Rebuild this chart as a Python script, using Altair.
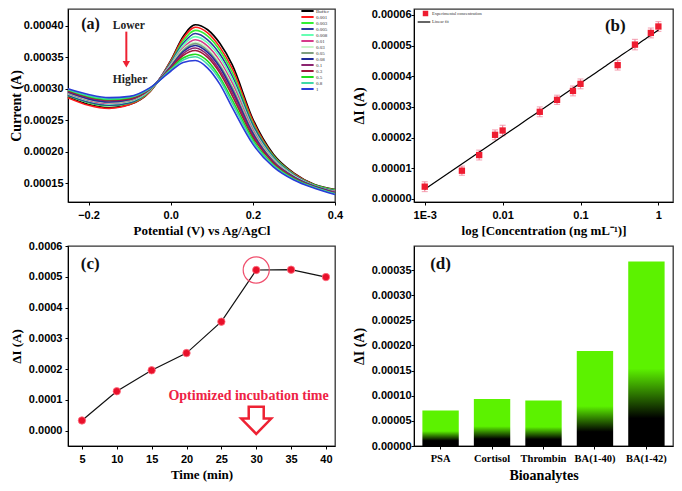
import altair as alt
import pandas as pd

# ---------------- Panel (a): DPV curves ----------------
POT = [-0.25, -0.2, -0.15, -0.1, -0.05, 0.0, 0.03, 0.06, 0.09, 0.12, 0.15, 0.2, 0.25, 0.3, 0.35, 0.4]
SERIES_A = ["Buffer", "0.001", "0.003", "0.005", "0.008", "0.01", "0.03", "0.05",
            "0.08", "0.1", "0.3", "0.5", "0.8", "1"]
COLORS_A = ["#000000", "#ff1a1a", "#33f033", "#2b3a9e", "#66ffb3", "#d63c8a", "#c8f5c8",
            "#7f9f7f", "#1f2a99", "#8c2470", "#a0183c", "#1fdc1f", "#40d9a6", "#2a3cd8"]
# currents in units of 1e-6 A
CUR_BUFFER = [287, 275, 270, 275, 296, 345, 383, 402, 394, 372, 338, 252, 196, 166, 148, 140]
CUR_0001 = [286, 274, 269, 275, 296, 344, 380, 398, 389, 366, 332, 249, 194, 165, 147, 139]
CUR_0003 = [289, 278, 273, 277, 297, 342, 376, 393, 384, 361, 326, 245, 193, 164, 147, 139]
CUR_0005 = [290, 279, 274, 278, 298, 341, 372, 388, 378, 355, 320, 242, 191, 163, 146, 138]
CUR_0008 = [292, 281, 276, 280, 298, 339, 369, 383, 373, 350, 315, 238, 189, 162, 146, 137]
CUR_001 = [293, 282, 277, 281, 299, 338, 365, 378, 368, 344, 309, 235, 187, 161, 145, 137]
CUR_003 = [294, 283, 278, 282, 299, 337, 363, 374, 364, 340, 304, 232, 186, 161, 145, 136]
CUR_005 = [294, 284, 279, 282, 299, 336, 361, 372, 361, 337, 302, 231, 185, 160, 145, 136]
CUR_008 = [295, 284, 279, 283, 300, 335, 359, 369, 358, 334, 298, 229, 184, 160, 145, 135]
CUR_01 = [296, 286, 281, 284, 300, 334, 356, 365, 354, 329, 294, 226, 183, 159, 144, 135]
CUR_03 = [296, 287, 282, 284, 300, 333, 353, 361, 350, 325, 289, 223, 182, 158, 144, 134]
CUR_05 = [298, 288, 283, 286, 301, 331, 349, 355, 344, 318, 282, 219, 179, 157, 143, 133]
CUR_08 = [299, 289, 284, 287, 301, 330, 346, 351, 339, 314, 277, 216, 178, 156, 143, 133]
CUR_1 = [300, 291, 286, 288, 302, 328, 342, 345, 333, 307, 270, 212, 176, 155, 142, 132]
CURVES_A = [CUR_BUFFER, CUR_0001, CUR_0003, CUR_0005, CUR_0008, CUR_001, CUR_003,
            CUR_005, CUR_008, CUR_01, CUR_03, CUR_05, CUR_08, CUR_1]

# ---------------- Panel (b): calibration ----------------
CONC_B = [0.001, 0.003, 0.005, 0.008, 0.01, 0.03, 0.05, 0.08, 0.1, 0.3, 0.5, 0.8, 1.0]
DI_B = [4.0, 9.2, 14.3, 20.9, 22.3, 28.4, 32.3, 35.2, 37.5, 43.6, 50.3, 54.1, 56.2]  # x 1e-6 A
ERR_B = [1.6, 1.5, 1.6, 1.6, 1.7, 1.6, 1.5, 1.6, 1.6, 1.6, 1.7, 1.6, 1.6]            # x 1e-6 A

# ---------------- Panel (c): incubation time ----------------
TIME_C = [5, 10, 15, 20, 25, 30, 35, 40]
DI_C = [0.000033, 0.000128, 0.000196, 0.000252, 0.000354, 0.000522, 0.000523, 0.000499]

# ---------------- Panel (d): selectivity ----------------
ANALYTES = ["PSA", "Cortisol", "Thrombin", "BA(1-40)", "BA(1-42)"]
DI_D = [0.0000705, 0.0000936, 0.0000904, 0.000189, 0.000367]

# ---------------- shared styles ----------------
SANS = "Liberation Sans"
SERIF = "Liberation Serif"
AX = dict(labelFont=SANS, labelFontWeight="bold", labelFontSize=11, labelColor="black",
          titleFont=SERIF, titleFontWeight="bold", titleColor="black",
          domainColor="black", tickColor="black", tickSize=3, grid=False,
          labelOverlap=False, labelBound=False, labelFlush=False)


def yaxis(values, fmt, title, label_pad, title_pad, title_size=14):
    return alt.Axis(values=values, format=fmt, title=title, labelPadding=label_pad,
                    titlePadding=title_pad, minExtent=44, maxExtent=44,
                    titleFontSize=title_size, **AX)


def xaxis(values, fmt, title, title_size=13, **kw):
    return alt.Axis(values=values, format=fmt, title=title, labelPadding=4, titlePadding=4,
                    minExtent=18, maxExtent=18, titleFontSize=title_size, labelAngle=0,
                    **{**AX, **kw})


def enc(xf, yf, sx, sy, ax, ay, xtype="Q"):
    return dict(x=alt.X(f"{xf}:{xtype}", scale=sx, axis=ax),
                y=alt.Y(f"{yf}:Q", scale=sy, axis=ay))


# ===== Panel (a) =====
rows = []
for name, vals in zip(SERIES_A, CURVES_A):
    for p, v in zip(POT, vals):
        rows.append({"pot": p, "cur": v * 1e-6, "conc": name})
df_a = pd.DataFrame(rows)

sx_a = alt.Scale(domain=[-0.25, 0.4], nice=False, zero=False)
sy_a = alt.Scale(domain=[0.00012, 0.000427], nice=False, zero=False)
ax_a = xaxis([-0.2, 0.0, 0.2, 0.4], ".1f", "Potential (V) vs Ag/AgCl")
ay_a = yaxis([0.00015, 0.0002, 0.00025, 0.0003, 0.00035, 0.0004], ".5f", "Current (A)", 2, 1)


def enc_a(xf, yf):
    return enc(xf, yf, sx_a, sy_a, ax_a, ay_a)


lines_a = alt.Chart(df_a).mark_line(interpolate="monotone", strokeWidth=1.6).encode(
    color=alt.Color("conc:N", scale=alt.Scale(domain=SERIES_A, range=COLORS_A),
                    legend=alt.Legend(orient="none", legendX=232, legendY=-1, title=None,
                                      symbolType="stroke", symbolSize=150, symbolStrokeWidth=2,
                                      labelFontSize=5, labelFont=SERIF, labelColor="#333",
                                      clipHeight=6.0, rowPadding=0, labelOffset=1)),
    **enc_a("pot", "cur"))

ANN_A_X = [-0.218]
ANN_A_Y = [0.000403]
lab_a = alt.Chart(pd.DataFrame({"pot": ANN_A_X, "cur": ANN_A_Y, "t": ["(a)"]})).mark_text(
    font=SERIF, fontWeight="bold", fontSize=16, align="left", baseline="middle", color="#111"
).encode(text="t:N", **enc_a("pot", "cur"))

WORDS_A = ["Lower", "Higher"]
WORDS_A_X = [-0.102, -0.099]
WORDS_A_Y = [0.0004, 0.000314]
words_a = alt.Chart(pd.DataFrame({"pot": WORDS_A_X, "cur": WORDS_A_Y, "t": WORDS_A})).mark_text(
    font=SERIF, fontWeight="bold", fontSize=11.5, align="center", baseline="middle", color="#222"
).encode(text="t:N", **enc_a("pot", "cur"))

ARROW_A = {"pot": [-0.108], "cur": [0.000391], "cur_end": [0.000338], "tip": [0.000339]}
arrow_df = pd.DataFrame(ARROW_A)
arrow_shaft = alt.Chart(arrow_df).mark_rule(color="#ee2233", strokeWidth=2).encode(
    y2="cur_end:Q", **enc_a("pot", "cur"))
arrow_head = alt.Chart(arrow_df).mark_point(shape="triangle-down", filled=True, size=55,
                                             color="#ee2233", opacity=1).encode(
    x=alt.X("pot:Q", scale=sx_a, axis=ax_a), y=alt.Y("tip:Q", scale=sy_a, axis=ay_a))

panel_a = alt.layer(lines_a, lab_a, words_a, arrow_shaft, arrow_head).properties(width=267, height=193)

# ===== Panel (b) =====
df_b = pd.DataFrame({"conc": CONC_B, "dI": [v * 1e-6 for v in DI_B],
                     "lo": [(v - e) * 1e-6 for v, e in zip(DI_B, ERR_B)],
                     "hi": [(v + e) * 1e-6 for v, e in zip(DI_B, ERR_B)]})
sx_b = alt.Scale(type="log", domain=[0.000728, 1.54], nice=False)
sy_b = alt.Scale(domain=[-0.000001, 0.0000619], nice=False, zero=False)
ax_b = xaxis([0.001, 0.01, 0.1, 1], "~g", "log [Concentration (ng mL\u207b\u00b9)]",
             labelExpr="datum.value < 0.005 ? '1E-3' : datum.label")
ay_b = yaxis([0, 0.00001, 0.00002, 0.00003, 0.00004, 0.00005, 0.00006], ".5f", "\u0394I (A)", 0, 4)


def enc_b(xf, yf):
    return enc(xf, yf, sx_b, sy_b, ax_b, ay_b)


err_b = alt.Chart(df_b).mark_errorbar(ticks={"size": 6, "color": "#f28aa0"}, color="#f28aa0",
                                      thickness=1.2).encode(
    y2="hi:Q", x=alt.X("conc:Q", scale=sx_b, axis=ax_b), y=alt.Y("lo:Q", scale=sy_b, axis=ay_b,
                                                                  title="\u0394I (A)"))
fit_b = alt.Chart(df_b).transform_regression(
    "conc", "dI", method="log", extent=[0.001, 1]
).transform_calculate(lbl="'Linear fit'").mark_line(strokeWidth=1.2).encode(
    color=alt.Color("lbl:N", scale=alt.Scale(domain=["Linear fit"], range=["#000000"]),
                    legend=alt.Legend(orient="none", legendX=3, legendY=6, title=None,
                                      symbolType="stroke", symbolSize=160, symbolStrokeWidth=1.2,
                                      labelFontSize=4.5, labelFont=SERIF, labelColor="#333",
                                      labelOffset=1)),
    **enc_b("conc", "dI"))
pts_b = alt.Chart(df_b).transform_calculate(lbl="'Experimental concentration'").mark_point(
    shape="square", filled=True, size=40, opacity=1).encode(
    color=alt.Color("lbl:N", scale=alt.Scale(domain=["Experimental concentration"], range=["#ee1c30"]),
                    legend=alt.Legend(orient="none", legendX=8, legendY=1, title=None,
                                      symbolType="square", symbolSize=30,
                                      labelFontSize=4.5, labelFont=SERIF, labelColor="#333",
                                      labelOffset=3)),
    **enc_b("conc", "dI"))
lab_b = alt.Chart(pd.DataFrame({"conc": [0.28], "dI": [0.0000565], "t": ["(b)"]})).mark_text(
    font=SERIF, fontWeight="bold", fontSize=17, align="center", baseline="middle", color="#111"
).encode(text="t:N", **enc_b("conc", "dI"))

panel_b = alt.layer(err_b, fit_b, pts_b, lab_b).resolve_scale(color="independent").resolve_legend(
    color="independent").properties(width=259, height=193)

# ===== Panel (c) =====
df_c = pd.DataFrame({"time": TIME_C, "dI": DI_C})
sx_c = alt.Scale(domain=[3, 41.3], nice=False, zero=False)
sy_c = alt.Scale(domain=[-0.00005, 0.0006], nice=False, zero=False)
ax_c = xaxis([5, 10, 15, 20, 25, 30, 35, 40], "d", "Time (min)")
ay_c = yaxis([0, 0.0001, 0.0002, 0.0003, 0.0004, 0.0005, 0.0006], ".4f", "\u0394I (A)", 3, 1, 13)


def enc_c(xf, yf):
    return enc(xf, yf, sx_c, sy_c, ax_c, ay_c)


line_c = alt.Chart(df_c).mark_line(color="#111", strokeWidth=1.2).encode(**enc_c("time", "dI"))
pts_c = alt.Chart(df_c).mark_point(filled=True, size=55, color="#e8102a", opacity=1, shape="circle",
                                   stroke="#ff6f80", strokeWidth=0.8).encode(**enc_c("time", "dI"))
ring_c = alt.Chart(df_c).transform_filter("datum.time == 30").mark_point(
    shape="circle", filled=False, size=680, color="#f0506e", strokeWidth=1.2, opacity=1).encode(
    **enc_c("time", "dI"))

OPT_X = [28.9]
OPT_Y = [0.000111]
opt_c = alt.Chart(pd.DataFrame({"time": OPT_X, "dI": OPT_Y, "t": ["Optimized incubation time"]})).mark_text(
    font=SERIF, fontWeight="bold", fontSize=14, align="center", baseline="middle", color="#ee2244"
).encode(text="t:N", **enc_c("time", "dI"))
ARROW_PATH = "M -0.5 -0.9 L 0.5 -0.9 L 0.5 -0.12 L 1 -0.12 L 0 0.9 L -1 -0.12 L -0.5 -0.12 Z"
hollow_c = alt.Chart(pd.DataFrame({"time": [30], "dI": [0.0000333]})).mark_point(
    shape=ARROW_PATH, size=900, filled=True, fill="white", stroke="#ee2233", strokeWidth=2.5,
    opacity=1, fillOpacity=1
).encode(**enc_c("time", "dI"))
lab_c = alt.Chart(pd.DataFrame({"time": [6.2], "dI": [0.000543], "t": ["(c)"]})).mark_text(
    font=SERIF, fontWeight="bold", fontSize=17, align="center", baseline="middle", color="#111"
).encode(text="t:N", **enc_c("time", "dI"))

panel_c = alt.layer(line_c, ring_c, pts_c, opt_c, hollow_c, lab_c).properties(width=267, height=200)

# ===== Panel (d) =====
df_d = pd.DataFrame({"analyte": ANALYTES, "dI": DI_D})
sx_d = alt.Scale(domain=ANALYTES, paddingInner=0.293, paddingOuter=0.163)
sy_d = alt.Scale(domain=[0, 0.000398], nice=False, zero=False)
ax_d = alt.Axis(title="Bioanalytes", labelPadding=4, titlePadding=4, minExtent=18, maxExtent=18,
                titleFontSize=14, labelAngle=0,
                **{**AX, "labelFont": SERIF, "labelFontSize": 10.5})
ay_d = yaxis([0, 0.00005, 0.0001, 0.00015, 0.0002, 0.00025, 0.0003, 0.00035], ".5f",
             "\u0394I (A)", 0, 4)
GREEN = "#5cf200"
grad = {"gradient": "linear", "x1": 0, "y1": 1, "x2": 0, "y2": 0,
        "stops": [{"offset": 0, "color": "#000000"}, {"offset": 0.15, "color": "#000000"},
                  {"offset": 0.42, "color": GREEN}, {"offset": 1, "color": GREEN}]}
bars_d = alt.Chart(df_d).mark_bar(color=grad).encode(
    x=alt.X("analyte:N", scale=sx_d, axis=ax_d, sort=ANALYTES),
    y=alt.Y("dI:Q", scale=sy_d, axis=ay_d))
lab_d = alt.Chart(pd.DataFrame({"analyte": ["PSA"], "dI": [0.000362], "t": ["(d)"]})).mark_text(
    font=SERIF, fontWeight="bold", fontSize=17, align="center", baseline="middle", color="#111"
).encode(text="t:N", x=alt.X("analyte:N", scale=sx_d, sort=ANALYTES, axis=ax_d),
         y=alt.Y("dI:Q", scale=sy_d, axis=ay_d))
panel_d = alt.layer(bars_d, lab_d).properties(width=259, height=200)

chart = alt.concat(panel_a, panel_b, panel_c, panel_d, columns=2,
                   spacing={"row": 44, "column": 79}, bounds="flush", align="each"
                   ).properties(padding=0).configure_view(
    stroke="#333", strokeWidth=1.3).configure_axis(labelOverlap=False)

chart.save("out.html", embed_options={"renderer": "svg", "actions": False})
